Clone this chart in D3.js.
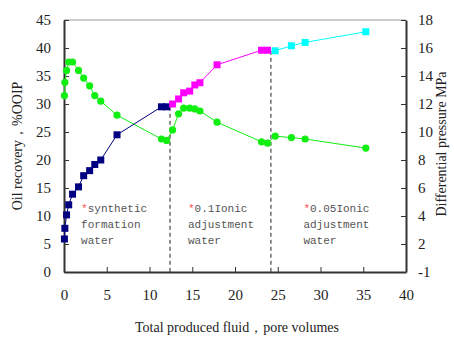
<!DOCTYPE html>
<html>
<head>
<meta charset="utf-8">
<script src="https://cdn.jsdelivr.net/npm/d3@7/dist/d3.min.js"></script>
<style>
  html, body { margin: 0; padding: 0; background: #fff; }
  svg { display: block; }
  .tick text { font-family: "Liberation Serif", "Times New Roman", serif; font-size: 15px; fill: #222; }
  .axis-title { font-family: "Liberation Serif", "Times New Roman", serif; font-size: 14px; fill: #222; }
  .note { font-family: "Liberation Mono", "DejaVu Sans Mono", monospace; font-size: 11px; fill: #555; }
  .note .star { fill: #ff4d4d; }
</style>
</head>
<body>
<div id="chart"></div>
<script>
/* Data
======================================================================= */
// Oil recovery (%OOIP) per injection stage, left axis
var recoveryFormationX = [0.05, 0.1, 0.3, 0.55, 1.0, 1.7, 2.3, 3.0, 3.6, 4.3, 6.2, 11.4, 12.0],
    recoveryFormationY = [5.9, 7.8, 10.2, 12.0, 13.9, 15.2, 17.2, 18.1, 19.2, 20.0, 24.5, 29.5, 29.5],
    recoveryIonic01X = [12.7, 13.4, 14.0, 14.7, 15.3, 15.9, 17.9, 23.1, 23.8],
    recoveryIonic01Y = [30.0, 30.9, 32.0, 32.3, 33.4, 33.8, 37.0, 39.6, 39.6],
    recoveryIonic005X = [24.7, 26.6, 28.2, 35.3],
    recoveryIonic005Y = [39.5, 40.4, 41.0, 42.9];

// Differential pressure (MPa), right axis
var pressureX = [0.05, 0.1, 0.3, 0.55, 1.0, 1.7, 2.3, 3.0, 3.6, 4.3, 6.2,
                 11.4, 12.0, 12.7, 13.4, 14.0, 14.7, 15.3, 15.9, 17.9, 23.1, 23.8,
                 24.7, 26.6, 28.2, 35.3],
    pressureY = [12.6, 13.55, 14.4, 15.0, 15.0, 14.4, 13.85, 13.3, 12.6, 12.2, 11.2,
                 9.5, 9.4, 10.15, 11.3, 11.7, 11.7, 11.65, 11.5, 10.7, 9.3, 9.2,
                 9.7, 9.6, 9.5, 8.85];

// Stage boundaries (pore volumes) and the recovery where the dashed line starts
var stageBreakX = [12.4, 24.2],
    stageBreakY = [29.5, 39.5];

// Stage notes
var noteLabels = [
  ['synthetic', 'formation', 'water'],
  ['0.1Ionic', 'adjustment', 'water'],
  ['0.05Ionic', 'adjustment', 'water']
];
var noteX = [2.0, 14.5, 28.0];

// Tick values
var xTicks = d3.range(0, 41, 5),
    yLeftTicks = d3.range(0, 46, 5),
    yRightTicks = d3.range(0, 19, 2);

/* Layout
======================================================================= */
var W = 454, H = 338,
    m = { top: 20, right: 48, bottom: 66, left: 64 },
    w = W - m.left - m.right,
    h = H - m.top - m.bottom;

var svg = d3.select('#chart').append('svg')
  .attr('width', W)
  .attr('height', H);

var g = svg.append('g')
  .attr('transform', 'translate(' + m.left + ',' + m.top + ')');

var x = d3.scaleLinear().domain([0, 40]).range([0, w]),
    yL = d3.scaleLinear().domain([0, 45]).range([h, 0]),
    yR = d3.scaleLinear().domain([0, 18]).range([h, 0]);

/* Axes
======================================================================= */
// Top frame line
g.append('line')
  .attr('x1', 0).attr('x2', w)
  .attr('y1', 0).attr('y2', 0)
  .attr('stroke', '#999')
  .attr('stroke-width', 1);

var xAxis = g.append('g')
  .attr('transform', 'translate(0,' + h + ')')
  .call(d3.axisBottom(x).tickValues(xTicks).tickSizeInner(-5).tickSizeOuter(0).tickPadding(17));

var yAxisL = g.append('g')
  .call(d3.axisLeft(yL).tickValues(yLeftTicks).tickSizeInner(-5).tickSizeOuter(0).tickPadding(13));

var yAxisR = g.append('g')
  .attr('transform', 'translate(' + w + ',0)')
  .call(d3.axisRight(yR).tickValues(yRightTicks).tickSizeInner(-5).tickSizeOuter(0).tickPadding(12)
    .tickFormat(function(d) { return d === 0 ? '-1' : d; }));

[xAxis, yAxisL, yAxisR].forEach(function(a) {
  a.select('.domain').attr('stroke', '#333').attr('stroke-width', 2);
  a.selectAll('.tick line').attr('stroke', '#333').attr('stroke-width', 1);
});

// Axis titles
svg.append('text')
  .attr('class', 'axis-title')
  .attr('text-anchor', 'middle')
  .attr('x', m.left + w / 2 + 2)
  .attr('y', 332)
  .text('Total produced fluid，pore volumes');

svg.append('text')
  .attr('class', 'axis-title')
  .attr('text-anchor', 'middle')
  .attr('transform', 'translate(22,' + (m.top + h / 2) + ') rotate(-90)')
  .text('Oil recovery，%OOIP');

svg.append('text')
  .attr('class', 'axis-title')
  .attr('text-anchor', 'middle')
  .attr('transform', 'translate(446,' + (m.top + h / 2 - 2) + ') rotate(-90)')
  .text('Differential pressure  MPa');

/* Stage boundaries
======================================================================= */
g.selectAll('.stage-break')
  .data(stageBreakX)
  .enter().append('line')
    .attr('class', 'stage-break')
    .attr('x1', function(d) { return x(d); })
    .attr('x2', function(d) { return x(d); })
    .attr('y1', function(d, i) { return yL(stageBreakY[i]); })
    .attr('y2', h)
    .attr('stroke', '#222')
    .attr('stroke-width', 1)
    .attr('stroke-dasharray', '4,3');

/* Series
======================================================================= */
function zip(xs, ys) {
  return xs.map(function(v, i) { return [v, ys[i]]; });
}

function drawSeries(points, yScale, color, shape) {
  var line = d3.line()
    .x(function(d) { return x(d[0]); })
    .y(function(d) { return yScale(d[1]); });

  g.append('path')
    .datum(points)
    .attr('fill', 'none')
    .attr('stroke', color)
    .attr('stroke-width', 1)
    .attr('d', line);

  if (shape === 'square') {
    g.selectAll(null)
      .data(points)
      .enter().append('rect')
        .attr('x', function(d) { return x(d[0]) - 3.5; })
        .attr('y', function(d) { return yScale(d[1]) - 3.5; })
        .attr('width', 7)
        .attr('height', 7)
        .attr('fill', color);
  } else {
    g.selectAll(null)
      .data(points)
      .enter().append('circle')
        .attr('cx', function(d) { return x(d[0]); })
        .attr('cy', function(d) { return yScale(d[1]); })
        .attr('r', 3.6)
        .attr('fill', color);
  }
}

drawSeries(zip(pressureX, pressureY), yR, '#11ee11', 'circle');
drawSeries(zip(recoveryFormationX, recoveryFormationY), yL, '#000080', 'square');
drawSeries(zip(recoveryIonic01X, recoveryIonic01Y), yL, '#ff00ff', 'square');
drawSeries(zip(recoveryIonic005X, recoveryIonic005Y), yL, '#00ffff', 'square');

/* Stage notes
======================================================================= */
noteLabels.forEach(function(lines, i) {
  var t = g.append('text')
    .attr('class', 'note')
    .attr('x', x(noteX[i]))
    .attr('y', yL(10.8));

  lines.forEach(function(txt, j) {
    var ts = t.append('tspan')
      .attr('x', x(noteX[i]))
      .attr('dy', j === 0 ? 0 : 16);
    if (j === 0) {
      ts.append('tspan').attr('class', 'star').text('*');
    }
    ts.append('tspan').text(txt);
  });
});
</script>
</body>
</html>
